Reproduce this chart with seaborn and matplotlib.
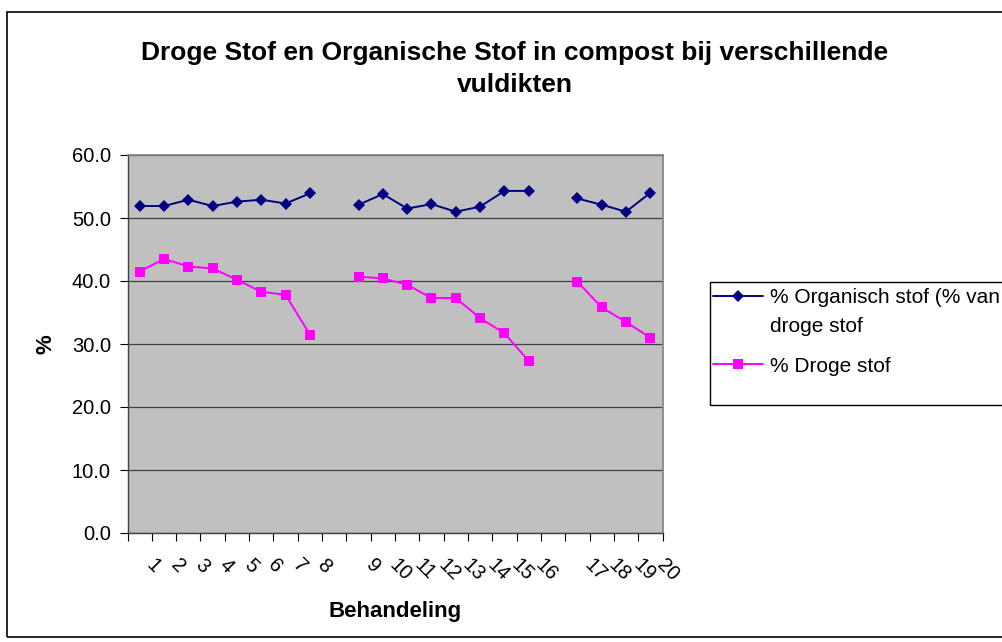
import numpy as np
import pandas as pd
import matplotlib
matplotlib.use("Agg")
import matplotlib.pyplot as plt
import matplotlib.transforms as mtransforms
from matplotlib.lines import Line2D
from matplotlib.patches import Rectangle
import seaborn as sns

# Categories (empty string = gap between the groups)
behandeling = ["1", "2", "3", "4", "5", "6", "7", "8", "",
               "9", "10", "11", "12", "13", "14", "15", "16", "",
               "17", "18", "19", "20"]

# % Organisch stof (% van droge stof)
organisch = [51.9, 51.9, 52.9, 51.9, 52.6, 52.9, 52.3, 53.9, None,
             52.1, 53.8, 51.5, 52.2, 51.0, 51.8, 54.3, 54.3, None,
             53.1, 52.1, 51.0, 54.0]

# % Droge stof
droge = [41.5, 43.5, 42.3, 42.0, 40.2, 38.3, 37.8, 31.5, None,
         40.7, 40.4, 39.4, 37.3, 37.3, 34.1, 31.7, 27.3, None,
         39.9, 35.8, 33.5, 31.0]

y_ticks = [0, 10, 20, 30, 40, 50, 60]

NAVY = "#000080"
MAGENTA = "#FF00FF"
W, H = 1002, 642

df = pd.DataFrame({
    "pos": np.arange(len(behandeling)),
    "label": behandeling,
    "organisch": organisch,
    "droge": droge,
})
df["groep"] = (df["label"] == "").cumsum()

sns.set_theme(style="white")
plt.rcParams["font.family"] = ["Liberation Sans", "DejaVu Sans"]
plt.rcParams.update({"text.color": "black", "axes.labelcolor": "black",
                     "xtick.color": "black", "ytick.color": "black"})

fig = plt.figure(figsize=(W / 100, H / 100), dpi=100)
fig.patch.set_facecolor("white")

# plot area in pixels: x 127.5..662.5, y 155..533
ax = fig.add_axes([127.5 / W, 1 - 533 / H, 535 / W, 378 / H])
ax.set_facecolor("#C0C0C0")

series = [
    ("organisch", NAVY, "D", 6.5),
    ("droge", MAGENTA, "s", 7.0),
]
for col, color, marker, ms in series:
    sub = df[["pos", "groep", col]].dropna()
    sns.lineplot(data=sub, x="pos", y=col, units="groep", estimator=None,
                 color=color, marker=marker, markersize=ms, markeredgewidth=0,
                 linewidth=1.4, ax=ax, legend=False)

ax.set_xlim(-0.5, len(behandeling) - 0.5)
ax.set_ylim(0, 60)
ax.set_yticks(y_ticks)
ax.set_yticklabels([f"{v:.1f}" for v in y_ticks], fontsize=14.5)
ax.yaxis.grid(True, color="#404040", linewidth=0.9)
ax.set_axisbelow(True)

ax.set_xticks(df["pos"])
ax.set_xticklabels(behandeling, fontsize=14.5, rotation=-45,
                   ha="left", va="center", rotation_mode="anchor")
ax.set_xticks(np.arange(-0.5, len(behandeling), 1), minor=True)
ax.tick_params(axis="x", which="major", length=0, pad=21)
ax.tick_params(axis="x", which="minor", length=6, width=0.8, color="black",
               direction="out", bottom=True)
ax.tick_params(axis="y", length=6, width=0.8, color="black", direction="out",
               left=True, pad=6)

for side in ["top", "right"]:
    ax.spines[side].set_color("#808080")
    ax.spines[side].set_linewidth(1.2)
for side in ["left", "bottom"]:
    ax.spines[side].set_color("#404040")
    ax.spines[side].set_linewidth(1.0)

ax.set_xlabel("Behandeling", fontsize=16, fontweight="bold")
ax.xaxis.set_label_coords(0.5, -(617 - 533) / 378)
ax.xaxis.label.set_va("baseline")
ax.set_ylabel("%", fontsize=16, fontweight="bold")
ax.yaxis.set_label_coords((45.5 - 127.5) / 535, 0.5)
ax.yaxis.label.set_va("center")

fig.text(515 / W, 1 - 69 / H,
         "Droge Stof en Organische Stof in compost bij verschillende\nvuldikten",
         ha="center", va="center", fontsize=19, fontweight="bold",
         linespacing=1.45)

# legend
handles = [Line2D([], [], color=NAVY, marker="D", markersize=6.5,
                  markeredgewidth=0, linewidth=1.4),
           Line2D([], [], color=MAGENTA, marker="s", markersize=7.0,
                  markeredgewidth=0, linewidth=1.4)]
fig.legend(handles, ["% Organisch stof (% van", "% Droge stof"],
           loc="upper left", bbox_to_anchor=(713 / W, 1 - 288 / H),
           frameon=False, fontsize=15, handlelength=2.4, handletextpad=0.35,
           labelspacing=2.38, borderpad=0, borderaxespad=0)
fig.text(770 / W, 1 - 327 / H, "droge stof", ha="left", va="center",
         fontsize=15)
fig.add_artist(Rectangle((710 / W, 1 - 405 / H), 310 / W, 123 / H,
                         transform=fig.transFigure, fill=False,
                         edgecolor="black", linewidth=1.0))

# chart border
fig.add_artist(Rectangle((7 / W, 1 - 637 / H), 1010 / W, 625 / H,
                         transform=fig.transFigure, fill=False,
                         edgecolor="black", linewidth=1.2))

offset = mtransforms.ScaledTranslation(0.10, 0, fig.dpi_scale_trans)
for lbl in ax.get_xticklabels():
    lbl.set_transform(lbl.get_transform() + offset)

fig.savefig("out.png", dpi=100)
